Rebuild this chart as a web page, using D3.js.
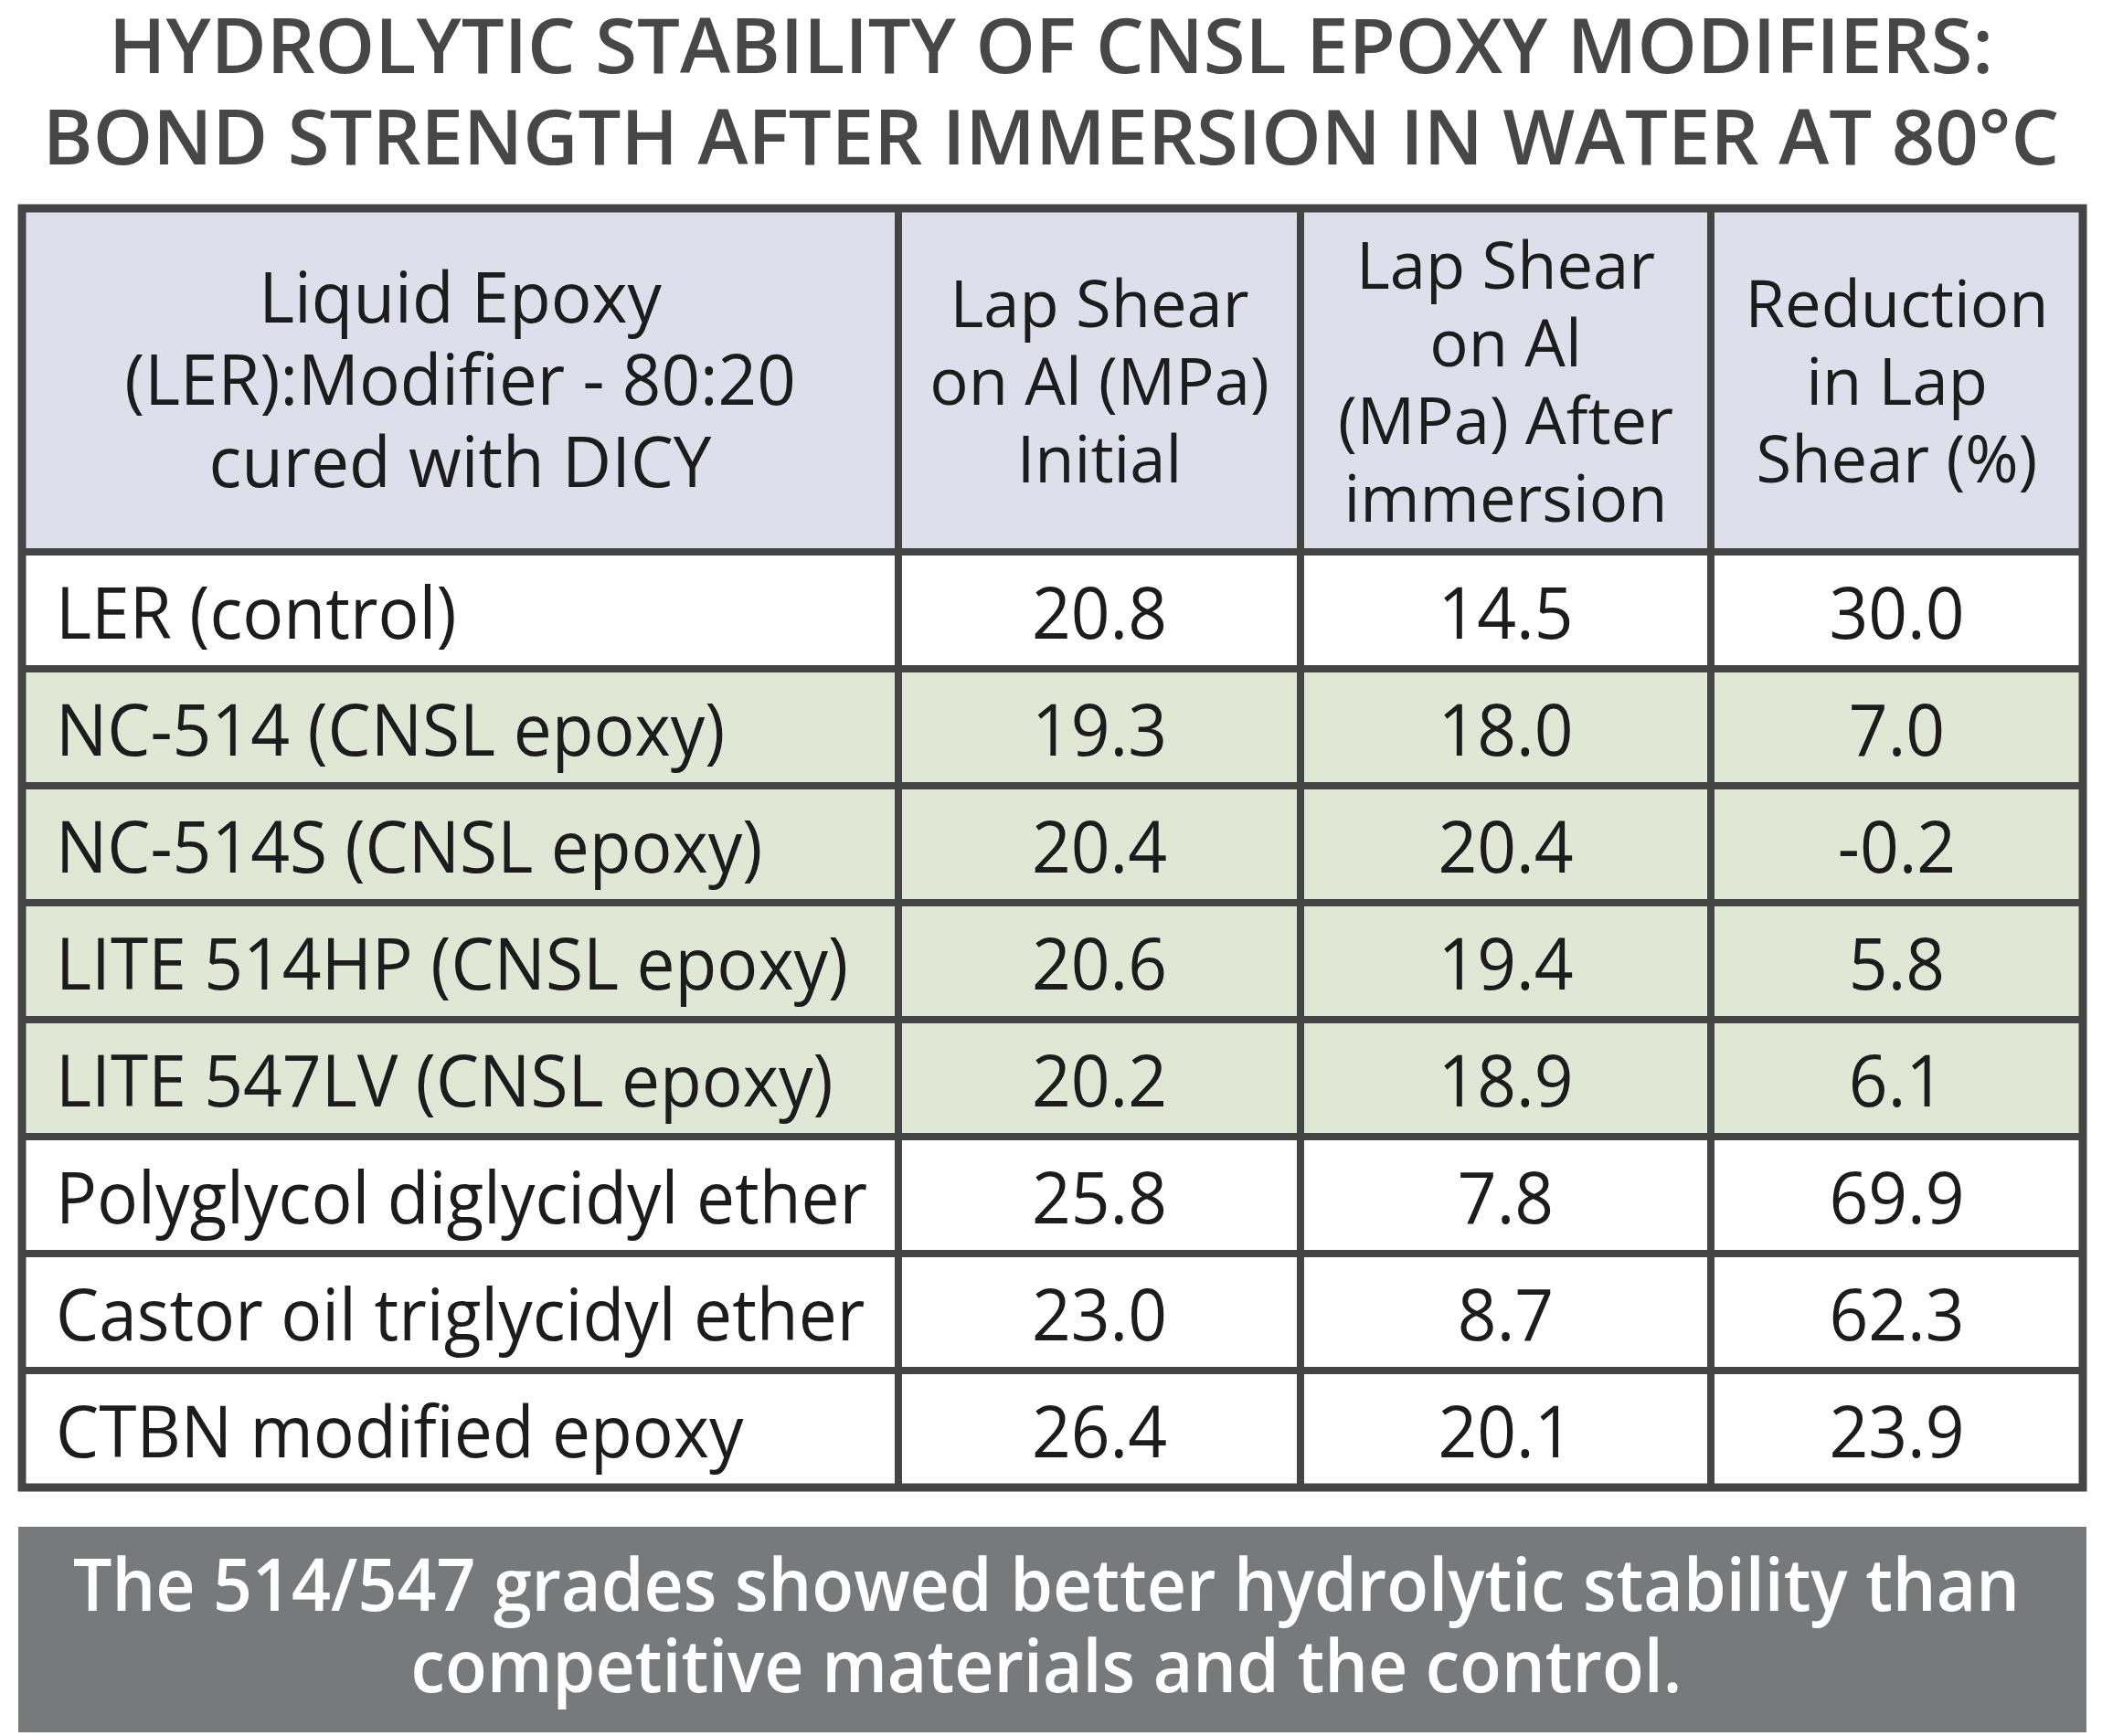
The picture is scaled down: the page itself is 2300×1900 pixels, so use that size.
<!DOCTYPE html>
<html>
<head>
<meta charset="utf-8">
<script src="https://cdn.jsdelivr.net/npm/d3@7"></script>
<style>
  body { margin: 0; background: #fff; }
  text { font-family: "Open Sans", "Noto Sans", sans-serif; }
</style>
</head>
<body>
<svg id="chart"></svg>
<script>
// table content
const titleLines = ["HYDROLYTIC STABILITY OF CNSL EPOXY MODIFIERS:", "BOND STRENGTH AFTER IMMERSION IN WATER AT 80°C"];
const headers = [
  ["Liquid Epoxy", "(LER):Modifier - 80:20", "cured with DICY"],
  ["Lap Shear", "on Al (MPa)", "Initial"],
  ["Lap Shear", "on Al", "(MPa) After", "immersion"],
  ["Reduction", "in Lap", "Shear (%)"]
];
const materials = ["LER (control)", "NC-514 (CNSL epoxy)", "NC-514S (CNSL epoxy)", "LITE 514HP (CNSL epoxy)",
  "LITE 547LV (CNSL epoxy)", "Polyglycol diglycidyl ether", "Castor oil triglycidyl ether", "CTBN modified epoxy"];
const initial = [20.8, 19.3, 20.4, 20.6, 20.2, 25.8, 23.0, 26.4];
const afterImmersion = [14.5, 18.0, 20.4, 19.4, 18.9, 7.8, 8.7, 20.1];
const reduction = [30.0, 7.0, -0.2, 5.8, 6.1, 69.9, 62.3, 23.9];
const cnslRows = ["NC-514 (CNSL epoxy)", "NC-514S (CNSL epoxy)", "LITE 514HP (CNSL epoxy)", "LITE 547LV (CNSL epoxy)"];
const footerLines = ["The 514/547 grades showed better hydrolytic stability than", "competitive materials and the control."];

const W = 2300, H = 1900;
const colEdges = [24, 983, 1423, 1872, 2279];
const tableTop = 228, headBottom = 604, tableBottom = 1628;
const border = "#444444";
const ink = "#1c1c1c";

const svg = d3.select("#chart").attr("width", W).attr("height", H);

// scales
const y = d3.scaleBand().domain(materials).range([headBottom, tableBottom]);

// title
svg.append("g").selectAll("text").data(titleLines).join("text")
  .attr("transform", (d, i) => `translate(${W / 2},${80 + i * 100}) scale(0.99,1)`)
  .attr("text-anchor", "middle")
  .attr("font-size", 84).attr("font-weight", 600)
  .attr("fill", "#474747")
  .text(d => d);

// header background
svg.append("rect")
  .attr("x", colEdges[0]).attr("y", tableTop)
  .attr("width", colEdges[4] - colEdges[0]).attr("height", headBottom - tableTop)
  .attr("fill", "#dfdfeb");

// row backgrounds
svg.append("g").selectAll("rect").data(materials).join("rect")
  .attr("x", colEdges[0]).attr("y", d => y(d))
  .attr("width", colEdges[4] - colEdges[0]).attr("height", y.bandwidth())
  .attr("fill", d => cnslRows.includes(d) ? "#e0e8d5" : "#ffffff");

// header text
const headG = svg.append("g");
headers.forEach((lines, c) => {
  const cx = (colEdges[c] + colEdges[c + 1]) / 2;
  const lh = c === 0 ? 90 : 85;
  const fs = c === 0 ? 76 : 72;
  const mid = 443;
  headG.selectAll(null).data(lines).join("text")
    .attr("transform", (d, i) => `translate(${cx},${mid + (i - (lines.length - 1) / 2) * lh}) scale(0.98,1)`)
    .attr("text-anchor", "middle")
    .attr("font-size", fs)
    .attr("fill", ink)
    .text(d => d);
});

// body text
const rows = materials.map((m, i) => ({ m, vals: [initial[i], afterImmersion[i], reduction[i]] }));
const body = svg.append("g").selectAll("g").data(rows).join("g")
  .attr("transform", d => `translate(0,${y(d.m) + y.bandwidth() / 2 + 31})`);

body.append("text")
  .attr("transform", `translate(61,0) scale(0.96,1)`)
  .attr("font-size", 78)
  .attr("fill", ink)
  .text(d => d.m);

body.selectAll("text.v").data(d => d.vals).join("text")
  .attr("class", "v")
  .attr("transform", (d, i) => `translate(${(colEdges[i + 1] + colEdges[i + 2]) / 2},0) scale(0.96,1)`)
  .attr("text-anchor", "middle")
  .attr("font-size", 78)
  .attr("fill", ink)
  .text(d => d.toFixed(1));

// grid lines
const grid = svg.append("g").attr("stroke", border).attr("stroke-width", 8);
grid.selectAll("line.h").data([headBottom, ...materials.slice(1).map(m => y(m))]).join("line")
  .attr("class", "h")
  .attr("x1", colEdges[0]).attr("x2", colEdges[4])
  .attr("y1", d => d).attr("y2", d => d);
grid.selectAll("line.v").data(colEdges.slice(1, 4)).join("line")
  .attr("class", "v")
  .attr("x1", d => d).attr("x2", d => d)
  .attr("y1", tableTop).attr("y2", tableBottom);
svg.append("rect")
  .attr("x", colEdges[0]).attr("y", tableTop)
  .attr("width", colEdges[4] - colEdges[0]).attr("height", tableBottom - tableTop)
  .attr("fill", "none").attr("stroke", border).attr("stroke-width", 9);

// footer box
svg.append("rect")
  .attr("x", 20).attr("y", 1671).attr("width", 2263).attr("height", 225)
  .attr("fill", "#78797b");
svg.append("g").selectAll("text").data(footerLines).join("text")
  .attr("transform", (d, i) => `translate(${W / 2 - 5},${1763 + i * 89}) scale(0.94,1)`)
  .attr("text-anchor", "middle")
  .attr("font-size", 80).attr("font-weight", 600)
  .attr("fill", "#ffffff")
  .text(d => d);
</script>
</body>
</html>
